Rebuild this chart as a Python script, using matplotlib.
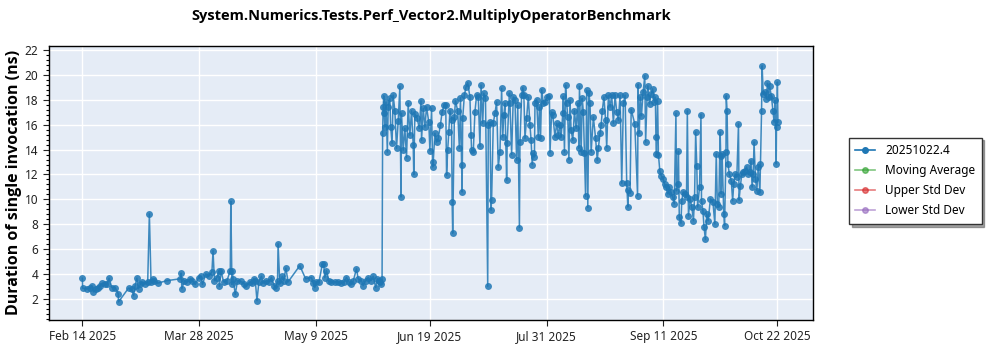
import numpy as np
import pandas as pd
import matplotlib
matplotlib.use("Agg")
import matplotlib.pyplot as plt
from matplotlib.lines import Line2D
from matplotlib.ticker import MultipleLocator

plt.rcParams['font.family'] = ['Noto Sans', 'DejaVu Sans']

title = "System.Numerics.Tests.Perf_Vector2.MultiplyOperatorBenchmark"
ylabel = "Duration of single invocation (ns)"
series_name = "20251022.4"
legend_names = ["Moving Average", "Upper Std Dev", "Lower Std Dev"]
legend_colors = ["#2ca02c", "#d62728", "#9467bd"]
start_date = "2025-02-14"

# day offsets from Feb 14 2025
days = [
    0, 0.1, 1.6, 2.8, 3.4, 4.0, 4.8, 5.5, 6.4, 7.2, 8.2, 9.0, 9.6, 10.6, 11.8, 12.9, 13.0,
    16.6, 17.8, 18.4, 19.0, 19.6, 20.2, 20.8, 21.4, 22.6, 23.5, 24.1, 24.7, 25.3, 25.9, 27.1,
    30.4, 35.2, 35.5, 35.8, 36.7, 37.6, 38.8, 39.6, 40.6, 41.8, 42.7, 43.2, 44.4, 45.4, 46.6,
    47.0, 47.5, 48.4, 49.0, 49.3, 49.9, 50.8, 52.0, 53.2, 53.4, 53.8, 53.9, 54.2, 55.0, 55.8,
    57.0, 58.2, 58.8, 60.2, 61.0, 61.6, 62.2, 62.8, 63.5, 64.4, 65.0, 66.2, 67.0, 68.0, 69.0,
    69.5, 70.2, 70.4, 71.0, 71.9, 72.4, 73.2, 74.0, 78.2, 80.3, 82.4, 83.0, 83.6, 84.2, 85.1,
    86.3, 86.8, 87.2, 87.8, 88.7, 89.6, 90.8, 92.0, 93.2, 94.2, 95.0, 95.9, 96.6, 97.4, 98.6,
    99.2, 100.4, 101.0, 101.9, 102.8, 103.8, 104.6, 105.5, 106.1, 106.7, 107.1, 107.5, 107.8,
    108.0, 108.2, 108.4, 108.6, 108.8, 109.2, 109.7, 110.0, 110.6, 110.9, 111.4, 111.8, 112.4,
    113.0, 113.6, 114.2, 114.6, 114.8, 115.4, 116.0, 116.6, 117.2, 117.8, 118.4, 119.0, 119.2,
    119.6, 120.4, 121.2, 121.8, 122.0, 122.6, 123.2, 123.8, 124.6, 125.0, 125.6, 126.0, 126.2,
    126.8, 127.4, 128.0, 128.8, 129.4, 130.2, 130.7, 131.0, 131.4, 131.8, 132.2, 132.8, 133.0,
    133.2, 133.8, 134.2, 135.0, 135.6, 136.0, 136.4, 136.6, 136.8, 137.4, 138.0, 138.6, 139.4,
    139.8, 140.0, 140.6, 141.2, 141.8, 142.4, 143.0, 143.4, 144.0, 144.4, 145.0, 145.8, 146.0,
    146.6, 147.0, 147.2, 147.8, 148.4, 149.0, 149.6, 150.2, 150.8,
    151.2, 151.6, 152.0, 152.6, 152.8, 153.6, 153.8, 154.4, 155.0, 155.6, 156.2, 156.6, 157.2,
    157.4, 158.0, 158.4, 158.8, 159.2, 159.8, 160.4, 161.0, 161.4, 161.8, 162.2, 162.6, 162.8,
    163.4, 164.0, 164.4, 164.8, 165.2, 165.8, 166.4, 167.2, 168.0, 168.2, 168.8, 169.2, 170.0,
    170.6, 171.2, 171.8, 172.2, 172.8, 173.0, 173.4, 173.8, 174.2, 174.6, 175.0, 175.4, 175.8,
    176.4, 177.0, 177.6, 178.2, 178.6, 178.8, 179.4, 179.8, 180.2, 180.6, 181.0, 181.4, 181.8,
    182.2, 182.6, 183.0, 183.8, 184.6, 185.2, 185.6, 186.2, 186.6, 187.0, 187.6, 188.2, 188.6,
    189.2, 189.8, 190.4, 191.0, 191.6, 192.2, 192.8, 193.4, 194.0, 194.6, 195.2, 195.8, 196.2,
    196.4, 197.0, 197.4,
    198.7, 199.7, 199.9, 200.3, 200.7, 201.1, 201.7, 202.3, 202.6, 203.1, 203.4, 204.0, 204.6,
    205.1, 205.7, 206.1, 206.3, 206.5, 206.9, 207.2, 207.7, 208.2, 208.9, 209.4, 209.9, 210.5,
    211.1, 211.7, 212.3, 212.9, 213.5, 213.7, 214.1, 214.4, 214.7, 215.3, 215.6, 216.1, 216.7,
    217.3, 217.6, 218.0, 218.6, 219.2, 219.8, 220.2, 220.6, 221.0, 221.3, 222.0, 222.5, 222.7,
    223.2, 223.6, 224.1, 224.6, 225.1, 225.9, 226.8, 227.5, 228.0, 228.4, 228.9, 229.4, 229.6,
    229.8, 230.1, 230.7, 231.0, 231.5, 231.6, 231.9, 232.2, 232.7, 233.4, 233.9, 234.3, 234.8,
    235.4, 236.0, 236.2, 236.7, 237.2, 237.8, 238.3, 238.9, 239.5, 240.1, 240.5, 240.9, 241.3,
    241.6, 242.1, 242.6, 243.1, 243.7, 243.9, 244.3, 244.5, 244.9, 245.4, 246.0, 246.4, 246.9,
    247.2, 247.8, 248.4, 248.8, 249.2, 249.6, 249.7, 250.0, 250.2,
]

durations = [
    3.7, 2.9, 2.85, 2.9, 3.1, 2.6, 2.8, 2.95, 3.1, 3.3, 3.2, 3.25, 3.7, 2.95, 2.95, 2.45, 1.8,
    2.9, 2.8, 2.3, 3.1, 3.7, 2.85, 3.2, 3.4, 3.25, 3.4, 8.85, 3.4, 3.65, 3.5, 3.3,
    3.5, 3.65, 4.1, 2.85, 3.5, 3.4, 3.65, 3.5, 3.2, 3.75, 3.85, 3.2, 4.05, 3.85, 4.2,
    5.9, 3.5, 3.75, 4.25, 3.05, 4.25, 3.4, 3.5, 4.3, 9.85, 3.2, 4.3, 3.65, 2.4, 3.5,
    3.45, 3.25, 3.05, 3.4, 3.3, 3.65, 3.5, 1.9, 3.4, 3.85, 3.3, 3.5, 3.4, 3.75, 3.1,
    2.95, 3.5, 6.45, 3.3, 3.85, 3.5, 4.5, 3.4, 4.7, 3.65, 3.75, 3.3, 2.95, 3.4, 3.4,
    4.8, 4.8, 3.75, 4.3, 3.45, 3.4, 3.4, 3.4, 3.3, 3.4, 3.75, 3.4, 3.25, 3.45, 4.45,
    3.65, 3.5, 3.1, 3.5, 3.75, 3.5, 3.85, 2.95, 3.65, 3.5, 3.4, 3.2, 3.65,
    15.3, 17.4, 18.3, 16.9, 15.8, 17.8, 13.8, 17.4, 18.1, 15.8, 14.5, 18.35, 17.1,
    14.1, 16.3, 19.05, 10.2, 16.9, 13.95, 15.7, 13.35, 17.7, 15.15, 17.1, 14.35, 12.0,
    16.85, 16.5, 15.7, 17.9, 14.75, 17.3, 15.8, 17.4, 16.2, 13.9, 17.3, 12.6, 13.0,
    15.3, 14.6, 14.9, 16.0, 17.0, 17.6, 17.6, 11.95, 13.95, 15.4, 17.1, 16.35, 9.8,
    7.3, 16.6, 17.9, 17.1, 14.1, 18.15, 12.75, 10.6, 16.5, 18.35, 19.0, 19.35, 18.2,
    15.15, 13.95, 13.8, 17.0, 18.35, 18.2, 14.25, 19.15, 16.1, 18.5, 18.1, 3.05, 15.95,
    16.2, 9.15, 9.95, 16.1, 16.9, 17.8, 12.6, 13.8, 18.9,
    15.0, 16.75, 17.7, 11.55, 14.5, 18.5, 17.7, 13.6, 18.2, 17.95, 13.15, 17.55, 7.75,
    14.6, 18.35, 18.95, 18.35, 14.9, 16.5, 18.2, 15.95, 14.75, 12.8, 13.7, 13.4, 17.7,
    18.0, 15.0, 17.4, 14.9, 18.8, 17.7, 17.8, 18.2, 18.25, 13.75, 17.0, 16.75, 15.0,
    16.1, 15.15, 15.95, 15.0, 16.9, 18.25, 13.8, 19.15, 17.7, 16.6, 13.2, 17.95, 15.55,
    14.75, 17.1, 15.7, 17.7, 14.1, 19.05, 13.8, 18.1, 17.0, 13.7, 10.25, 18.75, 9.35,
    18.5, 17.7, 13.8, 16.6, 14.9, 13.15, 14.1, 15.3, 15.95, 17.1, 18.2, 16.35, 14.15,
    18.35, 17.4, 18.35, 16.1, 18.35, 17.0, 16.35, 18.35, 11.3, 17.7, 18.35, 11.3, 9.4,
    10.75, 10.5, 17.2,
    16.05, 10.3, 19.2, 15.3, 18.2, 16.7, 18.6, 19.9, 14.6, 18.2, 19.1, 17.65, 18.45,
    18.85, 17.8, 18.2, 15.0, 13.65, 17.9, 13.6, 12.3, 11.9, 11.65, 11.25, 11.0, 10.45,
    11.0, 10.6, 10.2, 9.65, 16.9, 10.7, 11.25, 13.85, 8.6, 8.1, 9.9, 10.6, 10.45,
    10.2, 17.1, 8.7, 10.05, 9.4, 8.3, 10.2, 15.4, 12.7, 9.4, 11.0, 16.8, 9.9,
    9.1, 7.8, 6.8, 8.85, 8.3, 10.05, 9.8, 8.05, 13.65, 9.65, 9.4, 15.4, 13.5,
    10.45, 13.65, 8.85, 7.9, 13.8, 18.3, 17.1, 12.85, 12.05, 11.5, 9.9, 11.25, 12.05,
    11.8, 16.05, 9.95, 11.1, 12.05, 12.2, 12.3, 12.6, 12.05, 12.2, 13.1, 11.0, 12.05,
    14.6, 11.65, 10.7, 12.6, 10.6, 12.85, 17.1, 20.7, 18.45, 18.6, 18.05, 19.3, 18.2,
    19.05, 18.3, 17.1, 16.2, 17.95, 12.85, 15.8, 19.4, 16.2,
]

tick_labels = ["Feb 14 2025", "Mar 28 2025", "May 9 2025", "Jun 19 2025",
               "Jul 31 2025", "Sep 11 2025", "Oct 22 2025"]

base = pd.Timestamp(start_date)
dates = base + pd.to_timedelta(np.array(days), unit="D")
tick_dates = [pd.Timestamp(t) for t in pd.to_datetime(tick_labels, format="%b %d %Y")]

fig = plt.figure(figsize=(10, 3.5), dpi=100)
ax = fig.add_axes([0.049, 0.0857, 0.764, 0.7833])
ax.set_facecolor("#E5ECF6")

blue = "#1f77b4"
ax.plot(dates, durations, color=blue, lw=1.1, alpha=0.85, marker="o", ms=5,
        markeredgewidth=0, zorder=3)

ax.set_xlim(base - pd.Timedelta(days=12.0), base + pd.Timedelta(days=262.8))
ax.set_ylim(0.35, 22.3)
ax.set_xticks(tick_dates)
ax.set_xticklabels(tick_labels)
ax.yaxis.set_major_locator(MultipleLocator(2))
ax.yaxis.set_minor_locator(MultipleLocator(0.4))
ax.tick_params(axis="both", labelsize=8.5, colors="#222222", length=4, width=0.8)
ax.tick_params(axis="y", which="minor", length=2.5, width=0.8)
ax.grid(True, color="white", lw=1.0)
ax.set_axisbelow(True)
for s in ax.spines.values():
    s.set_color("black")
    s.set_linewidth(1.0)

ax.set_ylabel(ylabel, fontsize=11.5, fontweight="bold", labelpad=2, family="Open Sans")
fig.suptitle(title, x=0.431, y=0.975, fontsize=10.5, fontweight="bold", family="Open Sans")

handles = [Line2D([0], [0], color=blue, marker="o", ms=4, lw=1.2, label=series_name)]
for n, c in zip(legend_names, legend_colors):
    handles.append(Line2D([0], [0], color=c, marker="o", ms=4, lw=1.2, alpha=0.6, label=n))
leg = fig.legend(handles=handles, loc="upper left", bbox_to_anchor=(0.843, 0.624),
                 fontsize=8.5, frameon=True, fancybox=False, shadow=True,
                 borderpad=0.55, labelspacing=0.6, handlelength=1.7)
leg.get_frame().set_edgecolor("#333333")
leg.get_frame().set_linewidth(1.0)

fig.savefig("out.png", dpi=100)
